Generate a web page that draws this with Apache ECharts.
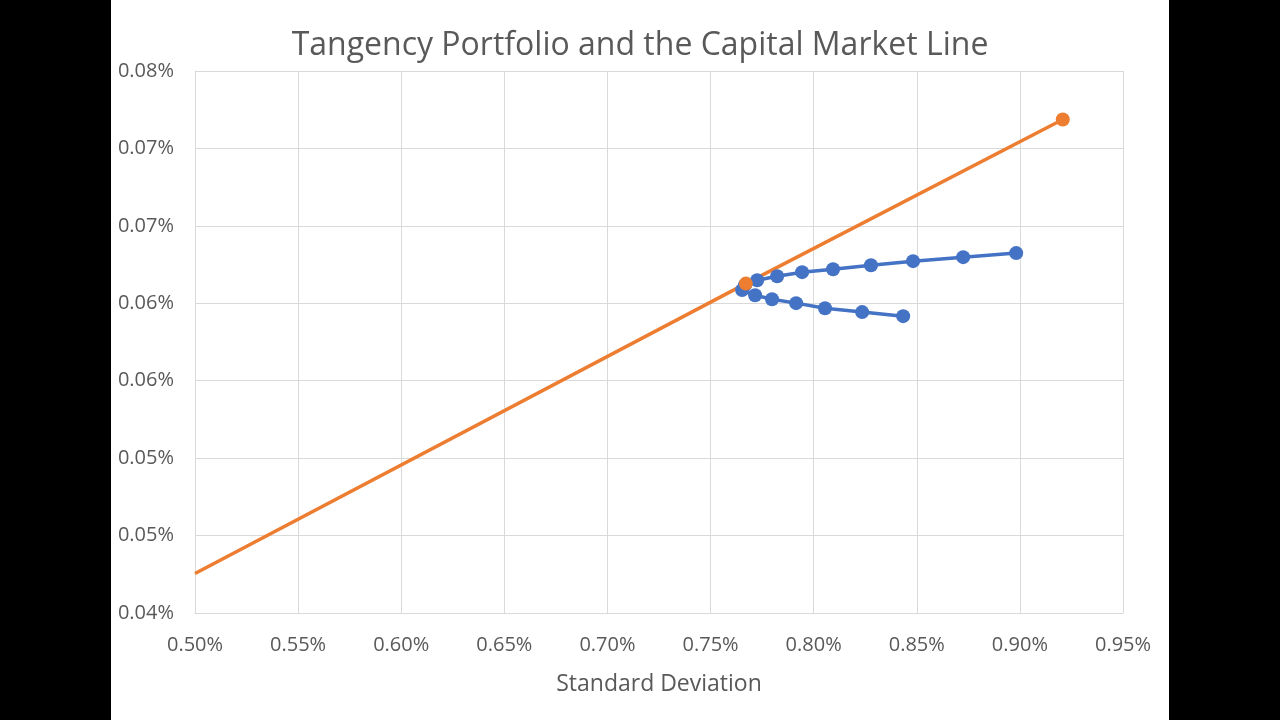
<!DOCTYPE html>
<html>
<head>
<meta charset="utf-8">
<script src="https://cdn.jsdelivr.net/npm/echarts@6/dist/echarts.min.js"></script>
<style>
html,body{margin:0;padding:0;background:#000;width:1280px;height:720px;overflow:hidden;}
#chart{position:absolute;left:111px;top:0;width:1058px;height:720px;background:#fff;}
</style>
</head>
<body>
<div id="chart"></div>
<script>
// Efficient frontier (standard deviation, expected return), as fractions
const frontierSD = [0.008434, 0.008235, 0.008055, 0.007915, 0.007798, 0.007716, 0.007653, 0.007667,
                    0.007726, 0.007823, 0.007944, 0.008094, 0.008278, 0.008482, 0.008725, 0.008982];
const frontierER = [0.0005917, 0.0005943, 0.0005968, 0.0006001, 0.0006026, 0.0006052, 0.0006085, 0.0006117,
                    0.0006149, 0.0006175, 0.0006201, 0.0006220, 0.0006246, 0.0006272, 0.0006298, 0.0006324];
// Capital market line
const cmlSD = [0.005000, 0.007671, 0.009208];
const cmlER = [0.0004255, 0.0006127, 0.0007187];
const cmlMarker = [false, true, true];
// Tick labels
const xTickLabels = ['0.50%','0.55%','0.60%','0.65%','0.70%','0.75%','0.80%','0.85%','0.90%','0.95%'];
const yTickLabels = ['0.04%','0.05%','0.05%','0.06%','0.06%','0.07%','0.07%','0.08%'];

const X_MIN = 0.005, X_INT = 0.0005, Y_MIN = 0.0004, Y_INT = 0.00005;
const txt = '#595959', grid = '#D9D9D9';
const font = '"Open Sans", "Liberation Sans", sans-serif';

const chart = echarts.init(document.getElementById('chart'));
chart.setOption({
  animation: false,
  backgroundColor: '#fff',
  textStyle: { fontFamily: font },
  title: {
    text: 'Tangency Portfolio and the Capital Market Line',
    left: 'center', top: 25,
    textStyle: { fontFamily: font, fontSize: 32, fontWeight: 'normal', color: txt }
  },
  grid: { left: 84, right: 46, top: 71, bottom: 107, containLabel: false, outerBoundsMode: 'none' },
  xAxis: {
    type: 'value', min: X_MIN, max: 0.0095, interval: X_INT,
    name: 'Standard Deviation', nameLocation: 'middle', nameGap: 60,
    nameTextStyle: { fontFamily: font, fontSize: 23, color: txt },
    axisLine: { show: true, lineStyle: { color: grid, width: 1 } },
    axisTick: { show: false },
    splitLine: { show: true, lineStyle: { color: grid, width: 1 } },
    axisLabel: {
      fontFamily: font, fontSize: 20, color: txt, margin: 22,
      formatter: v => xTickLabels[Math.round((v - X_MIN) / X_INT)]
    }
  },
  yAxis: {
    type: 'value', min: Y_MIN, max: 0.00075, interval: Y_INT,
    name: 'E(r)', nameLocation: 'middle', nameGap: 56,
    nameTextStyle: { fontFamily: font, fontSize: 22, color: txt },
    axisLine: { show: true, lineStyle: { color: grid, width: 1 } },
    axisTick: { show: false },
    splitLine: { show: true, lineStyle: { color: grid, width: 1 } },
    axisLabel: {
      fontFamily: font, fontSize: 20, color: txt, margin: 21,
      formatter: v => yTickLabels[Math.round((v - Y_MIN) / Y_INT)]
    }
  },
  series: [
    {
      type: 'line', name: 'Frontier',
      data: frontierSD.map((s, i) => [s, frontierER[i]]),
      symbol: 'circle', symbolSize: 14, showAllSymbol: true,
      lineStyle: { color: '#4472C4', width: 3.5 },
      itemStyle: { color: '#4472C4' }
    },
    {
      type: 'line', name: 'CML',
      data: cmlSD.map((s, i) => ({ value: [s, cmlER[i]], symbol: cmlMarker[i] ? 'circle' : 'none' })),
      symbol: 'circle', symbolSize: 14, showAllSymbol: true,
      lineStyle: { color: '#ED7D31', width: 3.5 },
      itemStyle: { color: '#ED7D31' }
    }
  ]
});
</script>
</body>
</html>
